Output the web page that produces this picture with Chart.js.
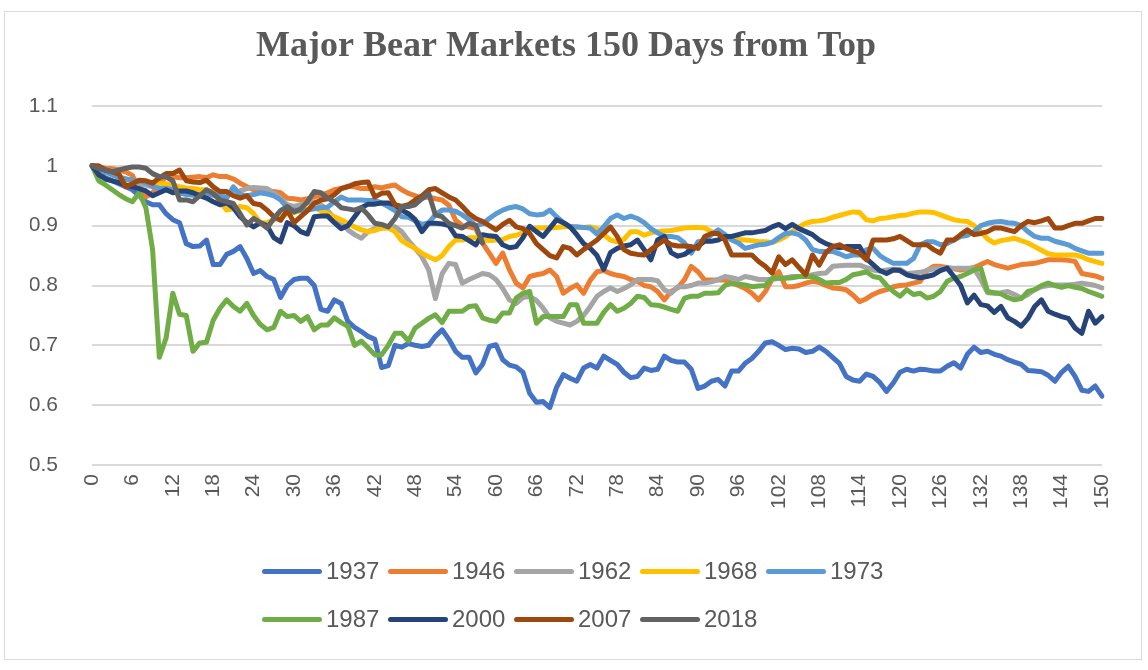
<!DOCTYPE html>
<html>
<head>
<meta charset="utf-8">
<script src="https://cdn.jsdelivr.net/npm/chart.js@4.4.1/dist/chart.umd.min.js"></script>
<style>
    html, body { margin: 0; padding: 0; background: #fff; }
    #wrap { position: relative; width: 1148px; height: 670px; }
    #frame { position: absolute; left: 4px; top: 11px; width: 1136px; height: 647px; border: 1px solid #d9d9d9; }
    #chart { position: absolute; left: 0; top: 0; }
    .legend-row { position: absolute; left: 262px; display: flex; font-family: 'Liberation Sans', sans-serif; font-size: 24px; color: #595959; }
    .legend-item { width: 126px; display: flex; align-items: center; }
    .legend-line { width: 60px; height: 5px; border-radius: 3px; margin-right: 4px; }
</style>
</head>
<body>
<div id="wrap">
    <div id="frame"></div>
    <canvas id="chart" width="1148" height="670"></canvas>
    <div class="legend-row" id="legendRow1" style="top:557px"></div>
    <div class="legend-row" id="legendRow2" style="top:605px"></div>
</div>
<script>
// Days from market top (categories)
const days = Array.from({ length: 151 }, (_, i) => i);
const xTickLabels = [0, 6, 12, 18, 24, 30, 36, 42, 48, 54, 60, 66, 72, 78, 84, 90, 96, 102, 108, 114, 120, 126, 132, 138, 144, 150];
const yTickLabels = [0.5, 0.6, 0.7, 0.8, 0.9, 1, 1.1];

const seriesNames = ['1937', '1946', '1962', '1968', '1973', '1987', '2000', '2007', '2018'];
const seriesColors = ['#4472C4', '#ED7D31', '#A5A5A5', '#FFC000', '#5B9BD5', '#70AD47', '#264478', '#9E480E', '#636363'];

// Index level relative to the top
const s1937 = [
    1.00, 0.99, 0.98, 0.975, 0.97, 0.965, 0.96, 0.95, 0.94, 0.935,
    0.935, 0.92, 0.91, 0.905, 0.87, 0.865, 0.866, 0.876, 0.835, 0.835,
    0.852, 0.857, 0.865, 0.845, 0.82, 0.825, 0.815, 0.81, 0.78, 0.80,
    0.81, 0.812, 0.812, 0.80, 0.76, 0.757, 0.776, 0.77, 0.74, 0.73,
    0.723, 0.715, 0.71, 0.663, 0.666, 0.70, 0.697, 0.703, 0.70, 0.698,
    0.70, 0.715, 0.726, 0.71, 0.69, 0.68, 0.68, 0.654, 0.668, 0.698,
    0.701, 0.676, 0.667, 0.664, 0.655, 0.62, 0.605, 0.606, 0.596, 0.63,
    0.651, 0.645, 0.64, 0.662, 0.668, 0.662, 0.682, 0.675, 0.668, 0.655,
    0.646, 0.648, 0.662, 0.658, 0.66, 0.682, 0.675, 0.672, 0.672, 0.66,
    0.628, 0.632, 0.64, 0.643, 0.632, 0.657, 0.657, 0.67, 0.678, 0.69,
    0.704, 0.706, 0.70, 0.693, 0.695, 0.694, 0.688, 0.69, 0.697, 0.69,
    0.68, 0.67, 0.648, 0.642, 0.64, 0.652, 0.648, 0.638, 0.623, 0.637,
    0.655, 0.66, 0.657, 0.66, 0.659, 0.657, 0.657, 0.665, 0.671, 0.662,
    0.685, 0.697, 0.688, 0.69, 0.685, 0.682, 0.676, 0.672, 0.668, 0.658,
    0.657, 0.656, 0.65, 0.64, 0.655, 0.665, 0.648, 0.625, 0.623, 0.632,
    0.615
];
const s1946 = [
    1.00, 0.998, 0.996, 0.995, 0.993, 0.99, 0.984, 0.96, 0.948, 0.955,
    0.97, 0.982, 0.982, 0.98, 0.98, 0.981, 0.982, 0.98, 0.985, 0.982,
    0.982, 0.978, 0.971, 0.965, 0.96, 0.96, 0.958, 0.957, 0.955, 0.946,
    0.945, 0.943, 0.945, 0.948, 0.951, 0.955, 0.96, 0.962, 0.966, 0.965,
    0.962, 0.962, 0.965, 0.963, 0.966, 0.968, 0.96, 0.954, 0.95, 0.946,
    0.948, 0.945, 0.943, 0.934, 0.909, 0.90, 0.898, 0.895, 0.871, 0.854,
    0.837, 0.854, 0.826, 0.804, 0.796, 0.815, 0.818, 0.82, 0.826, 0.815,
    0.787, 0.795, 0.801, 0.787, 0.809, 0.823, 0.825, 0.82, 0.817, 0.815,
    0.81, 0.807, 0.80, 0.798, 0.79, 0.776, 0.79, 0.796, 0.81, 0.832,
    0.823, 0.809, 0.809, 0.809, 0.809, 0.804, 0.80, 0.795, 0.787, 0.776,
    0.79, 0.81, 0.823, 0.798, 0.798, 0.80, 0.804, 0.807, 0.805, 0.80,
    0.796, 0.795, 0.793, 0.784, 0.773, 0.778, 0.785, 0.79, 0.793, 0.798,
    0.80, 0.801, 0.804, 0.807, 0.825, 0.832, 0.832, 0.83, 0.828, 0.826,
    0.828, 0.83, 0.835, 0.84, 0.835, 0.832, 0.829, 0.832, 0.835, 0.836,
    0.837, 0.84, 0.843, 0.843, 0.843, 0.842, 0.84, 0.82, 0.818, 0.816,
    0.812
];
const s1962 = [
    1.00, 0.995, 0.99, 0.985, 0.982, 0.978, 0.975, 0.97, 0.968, 0.965,
    0.965, 0.962, 0.96, 0.958, 0.957, 0.955, 0.955, 0.955, 0.958, 0.956,
    0.954, 0.953, 0.958, 0.962, 0.964, 0.963, 0.962, 0.955, 0.945, 0.935,
    0.932, 0.935, 0.938, 0.94, 0.935, 0.925, 0.912, 0.905, 0.893, 0.885,
    0.879, 0.89, 0.895, 0.896, 0.897, 0.898, 0.89, 0.875, 0.862, 0.848,
    0.826, 0.778, 0.82, 0.837, 0.835, 0.804, 0.81, 0.815, 0.82, 0.818,
    0.81, 0.795, 0.776, 0.77, 0.78, 0.782, 0.775, 0.762, 0.746, 0.74,
    0.737, 0.734, 0.74, 0.75, 0.765, 0.782, 0.79, 0.796, 0.79, 0.795,
    0.801, 0.81, 0.81, 0.81, 0.808, 0.793, 0.787, 0.798, 0.798, 0.80,
    0.804, 0.804, 0.806, 0.81, 0.815, 0.813, 0.81, 0.815, 0.813, 0.81,
    0.81, 0.81, 0.812, 0.813, 0.815, 0.815, 0.815, 0.818, 0.82, 0.821,
    0.832, 0.833, 0.834, 0.834, 0.834, 0.83, 0.826, 0.824, 0.826, 0.827,
    0.827, 0.82, 0.821, 0.822, 0.825, 0.828, 0.829, 0.829, 0.829, 0.829,
    0.829, 0.828, 0.81, 0.788, 0.787, 0.788, 0.79, 0.785, 0.779, 0.785,
    0.793, 0.798, 0.80, 0.801, 0.801, 0.801, 0.802, 0.804, 0.802, 0.80,
    0.796
];
const s1968 = [
    1.00, 0.995, 0.99, 0.985, 0.982, 0.978, 0.975, 0.975, 0.974, 0.972,
    0.97, 0.97, 0.968, 0.965, 0.963, 0.962, 0.96, 0.96, 0.955, 0.94,
    0.926, 0.928, 0.932, 0.93, 0.92, 0.905, 0.905, 0.91, 0.915, 0.92,
    0.922, 0.925, 0.928, 0.93, 0.925, 0.92, 0.915, 0.91, 0.904, 0.898,
    0.893, 0.89, 0.892, 0.896, 0.896, 0.89, 0.875, 0.868, 0.862, 0.854,
    0.848, 0.843, 0.85, 0.865, 0.876, 0.876, 0.88, 0.88, 0.876, 0.875,
    0.876, 0.877, 0.882, 0.884, 0.888, 0.893, 0.896, 0.896, 0.896, 0.897,
    0.898, 0.898, 0.897, 0.897, 0.898, 0.895, 0.885, 0.876, 0.873, 0.877,
    0.89, 0.89, 0.884, 0.888, 0.89, 0.891, 0.892, 0.894, 0.896, 0.897,
    0.897, 0.896, 0.89, 0.886, 0.882, 0.879, 0.877, 0.876, 0.875, 0.873,
    0.873, 0.872, 0.876, 0.882, 0.89, 0.898, 0.904, 0.907, 0.908, 0.91,
    0.914, 0.917, 0.92, 0.923, 0.922, 0.91, 0.908, 0.912, 0.913, 0.915,
    0.917, 0.918, 0.921, 0.923, 0.923, 0.922, 0.918, 0.914, 0.91, 0.908,
    0.907, 0.90, 0.89, 0.878, 0.871, 0.875, 0.877, 0.879, 0.875, 0.871,
    0.865, 0.859, 0.853, 0.851, 0.851, 0.851, 0.851, 0.848, 0.843, 0.84,
    0.837
];
const s1973 = [
    1.00, 0.993, 0.99, 0.985, 0.98, 0.978, 0.976, 0.974, 0.972, 0.966,
    0.962, 0.962, 0.96, 0.955, 0.952, 0.951, 0.952, 0.952, 0.951, 0.95,
    0.946, 0.965, 0.952, 0.95, 0.952, 0.955, 0.953, 0.95, 0.943, 0.93,
    0.926, 0.925, 0.926, 0.928, 0.93, 0.931, 0.94, 0.948, 0.943, 0.943,
    0.943, 0.942, 0.942, 0.938, 0.932, 0.925, 0.915, 0.914, 0.908, 0.902,
    0.905, 0.918, 0.926, 0.926, 0.924, 0.918, 0.91, 0.90, 0.903, 0.912,
    0.92, 0.926, 0.93, 0.932, 0.928, 0.92, 0.918, 0.919, 0.926, 0.915,
    0.905, 0.898, 0.898, 0.897, 0.896, 0.886, 0.898, 0.912, 0.918, 0.912,
    0.916, 0.912, 0.905, 0.895, 0.888, 0.882, 0.882, 0.88, 0.871, 0.854,
    0.873, 0.875, 0.885, 0.893, 0.885, 0.876, 0.871, 0.862, 0.865, 0.868,
    0.869, 0.872, 0.88, 0.887, 0.888, 0.885, 0.876, 0.86, 0.857, 0.857,
    0.857, 0.853, 0.848, 0.851, 0.851, 0.86, 0.862, 0.85, 0.843, 0.837,
    0.837, 0.837, 0.845, 0.868, 0.873, 0.873, 0.868, 0.87, 0.876, 0.882,
    0.884, 0.89, 0.90, 0.904, 0.906, 0.907, 0.905, 0.904, 0.90, 0.89,
    0.882, 0.879, 0.879, 0.874, 0.871, 0.868, 0.862, 0.858, 0.854, 0.854,
    0.854
];
const s1987 = [
    1.00, 0.975, 0.968, 0.96, 0.952, 0.945, 0.94, 0.955, 0.93, 0.86,
    0.68, 0.712, 0.787, 0.752, 0.75, 0.69, 0.704, 0.705, 0.742, 0.762,
    0.776, 0.765, 0.757, 0.77, 0.75, 0.735, 0.726, 0.73, 0.757, 0.748,
    0.75, 0.74, 0.748, 0.726, 0.734, 0.734, 0.746, 0.738, 0.732, 0.70,
    0.707, 0.696, 0.684, 0.684, 0.70, 0.72, 0.72, 0.707, 0.729, 0.737,
    0.745, 0.751, 0.738, 0.757, 0.757, 0.757, 0.765, 0.766, 0.746, 0.742,
    0.74, 0.754, 0.754, 0.779, 0.787, 0.79, 0.737, 0.748, 0.748, 0.748,
    0.748, 0.768, 0.768, 0.737, 0.737, 0.737, 0.755, 0.768, 0.757, 0.762,
    0.77, 0.782, 0.78, 0.768, 0.767, 0.764, 0.76, 0.757, 0.779, 0.782,
    0.782, 0.787, 0.787, 0.788, 0.80, 0.804, 0.802, 0.801, 0.798, 0.799,
    0.80, 0.812, 0.812, 0.812, 0.813, 0.815, 0.815, 0.815, 0.81, 0.804,
    0.805, 0.805, 0.81, 0.818, 0.82, 0.823, 0.815, 0.813, 0.80, 0.79,
    0.782, 0.793, 0.785, 0.787, 0.779, 0.782, 0.79, 0.807, 0.812, 0.815,
    0.82, 0.826, 0.829, 0.79, 0.788, 0.786, 0.78, 0.776, 0.778, 0.79,
    0.793, 0.80, 0.804, 0.80, 0.797, 0.80, 0.797, 0.795, 0.79, 0.786,
    0.782
];
const s2000 = [
    1.00, 0.985, 0.978, 0.975, 0.972, 0.968, 0.965, 0.962, 0.958, 0.95,
    0.955, 0.96, 0.955, 0.958, 0.958, 0.955, 0.95, 0.946, 0.94, 0.935,
    0.938, 0.93, 0.915, 0.905, 0.898, 0.905, 0.90, 0.88, 0.873, 0.905,
    0.90, 0.89, 0.886, 0.915, 0.916, 0.916, 0.905, 0.895, 0.90, 0.915,
    0.93, 0.936, 0.936, 0.938, 0.938, 0.935, 0.926, 0.92, 0.91, 0.89,
    0.904, 0.904, 0.903, 0.90, 0.883, 0.882, 0.875, 0.868, 0.885, 0.883,
    0.882, 0.868, 0.863, 0.865, 0.88, 0.899, 0.89, 0.882, 0.896, 0.91,
    0.905, 0.898, 0.885, 0.87, 0.862, 0.85, 0.827, 0.855, 0.862, 0.866,
    0.868, 0.876, 0.86, 0.843, 0.876, 0.882, 0.855, 0.849, 0.852, 0.86,
    0.866, 0.874, 0.874, 0.876, 0.882, 0.882, 0.885, 0.888, 0.888, 0.89,
    0.892, 0.898, 0.902, 0.895, 0.902, 0.895, 0.89, 0.885, 0.876, 0.87,
    0.866, 0.863, 0.865, 0.865, 0.865, 0.845, 0.835, 0.825, 0.82, 0.826,
    0.825, 0.818, 0.815, 0.813, 0.815, 0.818, 0.825, 0.829, 0.815, 0.80,
    0.771, 0.784, 0.768, 0.766, 0.755, 0.765, 0.746, 0.74, 0.732, 0.745,
    0.765, 0.776, 0.757, 0.752, 0.748, 0.745, 0.729, 0.72, 0.757, 0.737,
    0.748
];
const s2007 = [
    1.00, 1.00, 0.993, 0.99, 0.986, 0.965, 0.97, 0.976, 0.975, 0.971,
    0.98, 0.987, 0.987, 0.993, 0.975, 0.973, 0.972, 0.976, 0.965, 0.957,
    0.957, 0.95, 0.946, 0.95, 0.937, 0.935, 0.926, 0.915, 0.909, 0.926,
    0.905, 0.915, 0.925, 0.937, 0.943, 0.945, 0.952, 0.962, 0.965, 0.97,
    0.972, 0.973, 0.948, 0.954, 0.955, 0.935, 0.932, 0.935, 0.943, 0.95,
    0.96, 0.962, 0.955, 0.948, 0.943, 0.932, 0.92, 0.912, 0.907, 0.90,
    0.893, 0.902, 0.909, 0.898, 0.895, 0.887, 0.87, 0.86, 0.85, 0.846,
    0.865, 0.862, 0.851, 0.86, 0.868, 0.876, 0.887, 0.898, 0.882, 0.86,
    0.854, 0.852, 0.851, 0.86, 0.868, 0.876, 0.868, 0.866, 0.866, 0.865,
    0.862, 0.882, 0.887, 0.887, 0.876, 0.851, 0.851, 0.851, 0.851, 0.84,
    0.832, 0.821, 0.848, 0.835, 0.843, 0.83, 0.818, 0.851, 0.834, 0.855,
    0.865, 0.868, 0.862, 0.858, 0.854, 0.843, 0.876, 0.876, 0.876, 0.878,
    0.882, 0.875, 0.868, 0.868, 0.868, 0.86, 0.854, 0.876, 0.876, 0.885,
    0.893, 0.885, 0.887, 0.89, 0.896, 0.896, 0.893, 0.89, 0.90, 0.907,
    0.905, 0.908, 0.912, 0.896, 0.896, 0.90, 0.904, 0.904, 0.908, 0.912,
    0.912
];
// 2018 only runs to day 58
const s2018 = [
    1.00, 0.995, 0.993, 0.99, 0.993, 0.996, 0.998, 0.998, 0.996, 0.987,
    0.982, 0.982, 0.975, 0.943, 0.943, 0.94, 0.95, 0.96, 0.954, 0.943,
    0.94, 0.937, 0.92, 0.901, 0.912, 0.905, 0.896, 0.912, 0.925, 0.932,
    0.923, 0.928, 0.94, 0.957, 0.955, 0.946, 0.94, 0.93, 0.928, 0.926,
    0.93, 0.918, 0.904, 0.902, 0.898, 0.912, 0.932, 0.932, 0.935, 0.945,
    0.954, 0.918, 0.915, 0.904, 0.90, 0.896, 0.904, 0.90, 0.871
];

const seriesValues = [s1937, s1946, s1962, s1968, s1973, s1987, s2000, s2007, s2018];

document.addEventListener('DOMContentLoaded', function() {
    buildLegend();
    initChart();
});

// Two-row legend laid out like the Excel one
function buildLegend() {
    seriesNames.forEach((name, i) => {
        const row = document.getElementById(i < 5 ? 'legendRow1' : 'legendRow2');
        const item = document.createElement('div');
        item.className = 'legend-item';
        const line = document.createElement('span');
        line.className = 'legend-line';
        line.style.background = seriesColors[i];
        const label = document.createElement('span');
        label.textContent = name;
        item.appendChild(line);
        item.appendChild(label);
        row.appendChild(item);
    });
}

function initChart() {
    const ctx = document.getElementById('chart').getContext('2d');

    const datasets = seriesNames.map((name, i) => ({
        label: name,
        data: seriesValues[i],
        borderColor: seriesColors[i],
        backgroundColor: seriesColors[i],
        borderWidth: 5,
        pointRadius: 0,
        tension: 0,
        borderJoinStyle: 'round',
        borderCapStyle: 'round',
        order: seriesNames.length - i   // later series on top, like Excel
    }));

    new Chart(ctx, {
        type: 'line',
        data: { labels: days, datasets: datasets },
        options: {
            responsive: false,
            animation: false,
            layout: { padding: { top: 25.4, left: 30, right: 46, bottom: 145 } },
            plugins: {
                legend: { display: false },
                tooltip: { enabled: false },
                title: {
                    display: true,
                    text: 'Major Bear Markets 150 Days from Top',
                    color: '#595959',
                    font: { family: "'Liberation Serif', serif", size: 36, weight: 'bold' },
                    padding: { top: 0, bottom: 37.4 }
                }
            },
            scales: {
                x: {
                    grid: { display: false, drawTicks: false },
                    border: { display: false },
                    afterFit: function(scale) { scale.height = 60; },
                    ticks: {
                        autoSkip: false,
                        minRotation: 90,
                        maxRotation: 90,
                        padding: 9,
                        color: '#595959',
                        font: { family: "'Liberation Sans', sans-serif", size: 21 },
                        callback: function(value, index) {
                            return xTickLabels.includes(days[index]) ? String(days[index]) : '';
                        }
                    }
                },
                y: {
                    min: 0.5,
                    max: 1.1,
                    afterFit: function(scale) { scale.width = 62; },
                    afterBuildTicks: function(scale) {
                        scale.ticks = yTickLabels.map(v => ({ value: v }));
                    },
                    grid: { color: '#d9d9d9', lineWidth: 2, drawTicks: false },
                    border: { display: false },
                    ticks: {
                        padding: 34,
                        color: '#595959',
                        font: { family: "'Liberation Sans', sans-serif", size: 21 },
                        callback: function(value) { return String(Math.round(value * 10) / 10); }
                    }
                }
            }
        }
    });
}
</script>
</body>
</html>
